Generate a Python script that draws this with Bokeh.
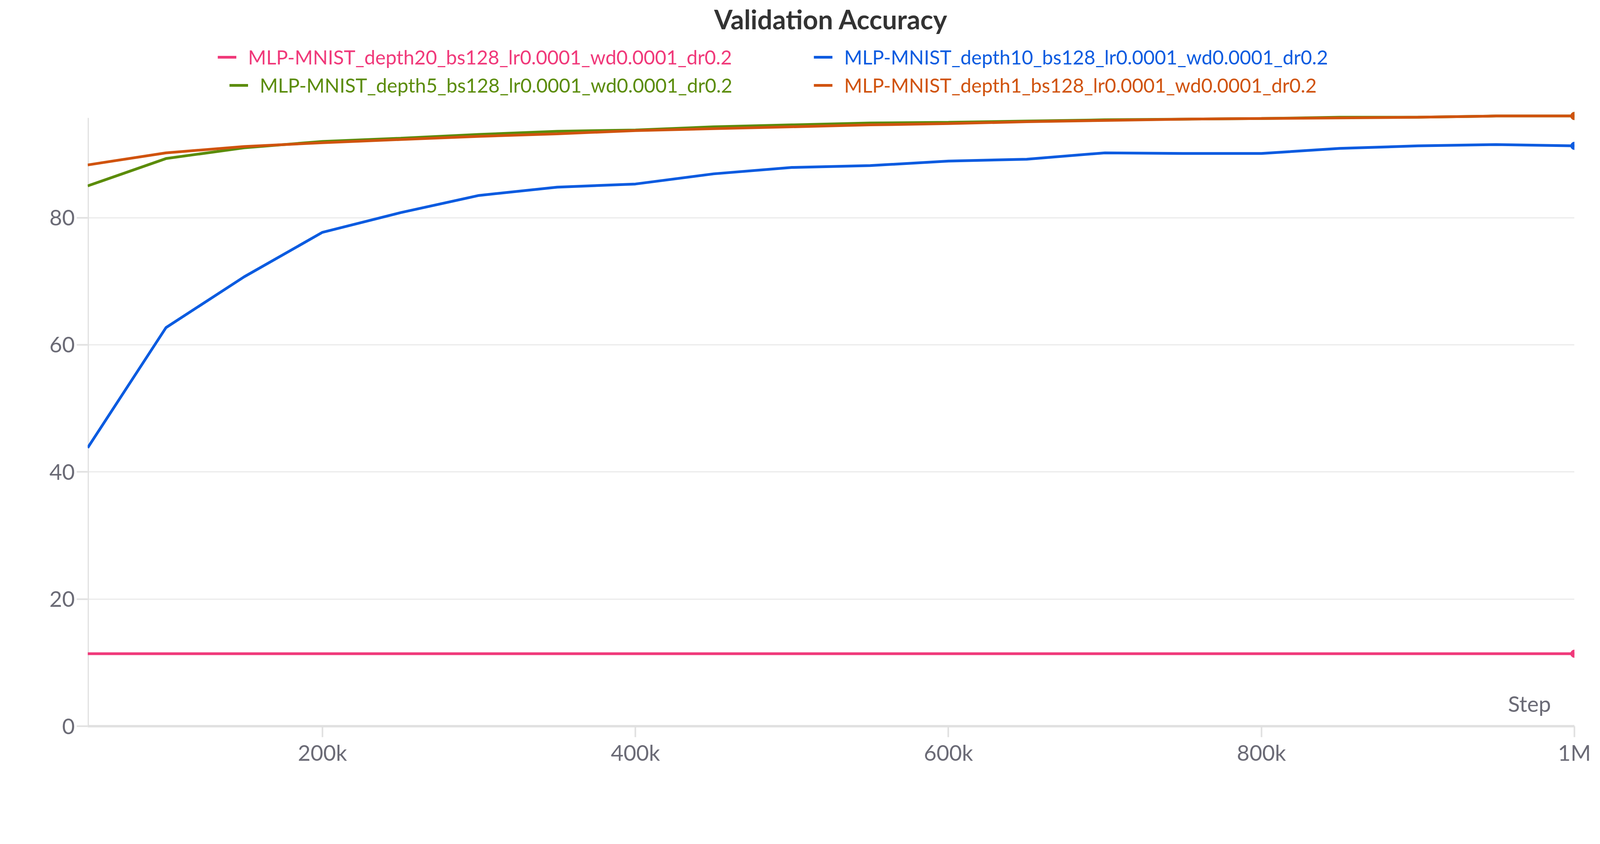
from bokeh.plotting import figure
from bokeh.models import Legend, LegendItem, Label, FixedTicker, Range1d
from bokeh.embed import file_html
from bokeh.resources import INLINE

steps = [50000 * i for i in range(1, 21)]
depth20 = [11.4] * 20
depth10 = [43.8, 62.7, 70.7, 77.7, 80.8, 83.5, 84.8, 85.3, 86.9, 87.9,
           88.2, 88.9, 89.2, 90.2, 90.1, 90.1, 90.9, 91.3, 91.5, 91.3]
depth5 = [85.0, 89.3, 91.0, 92.0, 92.5, 93.1, 93.6, 93.8, 94.3, 94.6,
          94.9, 95.0, 95.2, 95.4, 95.5, 95.6, 95.8, 95.8, 96.0, 96.0]
depth1 = [88.3, 90.2, 91.2, 91.8, 92.3, 92.8, 93.2, 93.7, 94.0, 94.3,
          94.6, 94.8, 95.1, 95.3, 95.5, 95.6, 95.7, 95.8, 96.0, 96.0]

names = ["MLP-MNIST_depth20_bs128_lr0.0001_wd0.0001_dr0.2",
         "MLP-MNIST_depth10_bs128_lr0.0001_wd0.0001_dr0.2",
         "MLP-MNIST_depth5_bs128_lr0.0001_wd0.0001_dr0.2",
         "MLP-MNIST_depth1_bs128_lr0.0001_wd0.0001_dr0.2"]
colors = ["#f0397a", "#0b5be0", "#5b8c0a", "#d0530e"]
series = [depth20, depth10, depth5, depth1]

FONT = "Lato"
Y_TOP = 95.7
p = figure(frame_width=3806, frame_height=1765, output_backend="svg",
           toolbar_location=None,
           x_range=Range1d(50000, 1000000), y_range=Range1d(0, 108.5),
           min_border_left=224, min_border_right=110, min_border_top=20,
           min_border_bottom=150)
p.outline_line_color = None

p.title.text = "Validation Accuracy"
p.title.align = "center"
p.title.text_font = FONT
p.title.text_font_size = "68px"
p.title.text_color = "#333333"
p.title.standoff = 10

# y axis line only up to the data area
p.segment(x0=[50000], y0=[0], x1=[50000], y1=[Y_TOP], line_color="#e0e0e0", line_width=6)

renderers = []
for ys, c in zip(series, colors):
    r = p.line(steps, ys, line_color=c, line_width=7)
    p.scatter([steps[-1]], [ys[-1]], color=c, size=20)
    renderers.append(r)

# colored legend labels, one legend per entry
pos = [(333, 1682), (1859, 1682), (363, 1610), (1859, 1610)]
for name, c, r, (lx, ly) in zip(names, colors, renderers, pos):
    lg = Legend(items=[LegendItem(label=name, renderers=[r])], location=(lx, ly),
                label_text_color=c, label_text_font=FONT, label_text_font_size="50px",
                glyph_width=48, glyph_height=20, label_standoff=30,
                background_fill_alpha=0, border_line_color=None, padding=0, margin=0)
    p.add_layout(lg, "center")

p.xaxis.ticker = FixedTicker(ticks=[200000, 400000, 600000, 800000, 1000000])
p.xaxis.major_label_overrides = {200000: "200k", 400000: "400k", 600000: "600k",
                                 800000: "800k", 1000000: "1M"}
p.yaxis.ticker = FixedTicker(ticks=[0, 20, 40, 60, 80])
for ax in (p.xaxis[0], p.yaxis[0]):
    ax.axis_line_color = "#e0e0e0"
    ax.axis_line_width = 6
    ax.major_tick_line_color = "#e0e0e0"
    ax.major_tick_line_width = 4
    ax.major_tick_in = 0
    ax.major_tick_out = 28
    ax.minor_tick_line_color = None
    ax.major_label_text_font = FONT
    ax.major_label_text_font_size = "56px"
    ax.major_label_text_color = "#6b6b76"
p.yaxis.axis_line_color = None
p.xgrid.grid_line_color = None
p.ygrid.grid_line_color = "#ebebeb"
p.ygrid.grid_line_width = 3

p.add_layout(Label(x=985000, y=1.5, text="Step", text_align="right",
                   text_font=FONT, text_font_size="56px", text_color="#6b6b76"))

open("out.html", "w").write(file_html(p, INLINE))
